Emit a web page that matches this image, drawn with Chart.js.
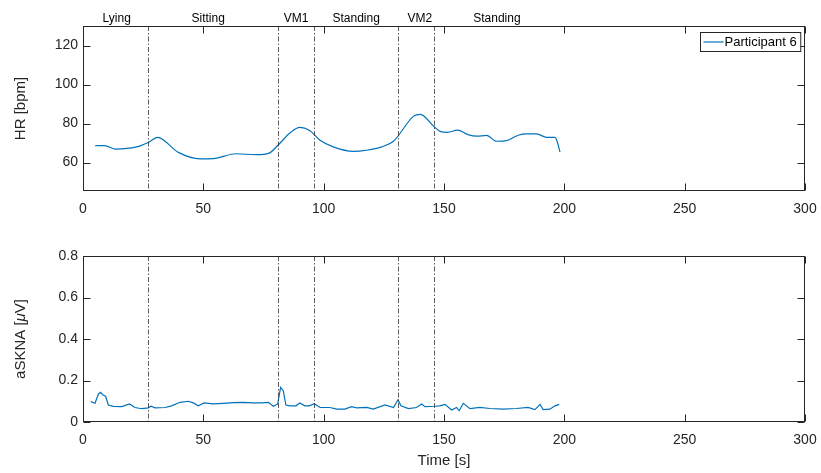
<!DOCTYPE html>
<html>
<head>
<meta charset="utf-8">
<script src="https://cdn.jsdelivr.net/npm/chart.js@4"></script>
<style>
  html, body { margin: 0; padding: 0; background: #fff; }
  .panel { position: absolute; left: 0; width: 821px; }
</style>
</head>
<body>
<div class="panel" style="top:0;height:240px"><canvas id="hrChart" width="821" height="240"></canvas></div>
<div class="panel" style="top:240px;height:233px"><canvas id="sknaChart" width="821" height="233"></canvas></div>
<script>
// heart rate, participant 6
const hrTime = [5, 9, 13.3, 22.3, 27.1, 31, 39.6, 48.6, 54.1, 63.6, 72.1, 77.3, 81.1, 86.3, 90.1, 94, 98.5, 104, 112.3, 117.9,
  124.1, 129, 137.4, 140.2, 145.7, 148.4, 151.5, 155.6, 160, 163.6, 167.7, 171.8, 176, 180.8, 184.3, 188.5, 192.6, 196.1, 196.8, 198.2];
const hrValues = [68.6, 68.7, 66.9, 68, 70.3, 72.9, 65.2, 61.9, 62, 64.5, 64, 64.8, 69, 75.5, 78, 76.6, 71.4, 68, 65.7, 66.3,
  68, 70.9, 83.8, 84.7, 78.6, 76, 75.5, 76.6, 74.3, 73.5, 73.9, 70.9, 71.2, 74, 74.7, 74.7, 72.9, 72.9, 71.7, 65.4];

// skin sympathetic nerve activity
const sknaTime = [3.3, 5, 6.4, 7.3, 8.3, 9.4, 10.5, 12.6, 16.1, 19.3, 21.6, 24.4, 27.1, 28.3, 29.9, 34.1, 36.8, 40.3, 43.8, 45.8,
  47.9, 50.3, 54.1, 58.3, 62.4, 66.6, 70.8, 74.2, 77, 79.1, 80.9, 82.1, 83.2, 84.3, 86, 88.5, 90.1, 92.2, 94, 96.1,
  98.5, 102.6, 105.4, 108.8, 111.6, 113.7, 117.9, 120.6, 125.5, 129, 130.9, 132.1, 135.2, 138.6, 140.7, 142.1, 146.2, 148.2, 150.4, 153.2,
  155.2, 156.3, 158, 160.8, 164.9, 169, 174.6, 180.1, 184.9, 187.8, 189.9, 191.2, 194, 196.1, 197.9];
const sknaValues = [0.098, 0.09, 0.135, 0.143, 0.13, 0.124, 0.082, 0.075, 0.074, 0.087, 0.07, 0.064, 0.068, 0.076, 0.068, 0.07, 0.078, 0.095, 0.1, 0.092,
  0.078, 0.092, 0.087, 0.09, 0.093, 0.095, 0.092, 0.092, 0.095, 0.076, 0.087, 0.167, 0.151, 0.082, 0.078, 0.078, 0.092, 0.078, 0.078, 0.088,
  0.07, 0.07, 0.062, 0.062, 0.074, 0.068, 0.07, 0.062, 0.082, 0.07, 0.107, 0.078, 0.065, 0.07, 0.087, 0.074, 0.076, 0.078, 0.085, 0.058,
  0.07, 0.054, 0.09, 0.064, 0.07, 0.065, 0.062, 0.065, 0.07, 0.06, 0.085, 0.06, 0.062, 0.078, 0.085];

// protocol phases
const phaseBounds = [27, 81, 96, 131, 146];
const phaseNames = ['Lying', 'Sitting', 'VM1', 'Standing', 'VM2', 'Standing'];
const phaseLabelAt = [14, 52, 88.5, 113.5, 140, 172];

const timeTicks = [0, 50, 100, 150, 200, 250, 300];
const hrTicks = [60, 80, 100, 120];
const sknaTicks = [0, 0.2, 0.4, 0.6, 0.8];
const seriesName = 'Participant 6';

const INK = '#262626';
const BLUE = '#0072BD';
const FONT = "'Liberation Sans', Arial, sans-serif";

function pairs(xs, ys) {
  return xs.map((x, i) => ({ x: x, y: ys[i] }));
}

// box around the axes, inward ticks on all four sides, phase markers
const axesBox = {
  id: 'axesBox',
  afterDatasetsDraw(chart, args, opts) {
    const { ctx, chartArea: a, scales } = chart;
    const xs = scales.x, ys = scales.y;
    ctx.save();

    // phase boundaries (dash-dot)
    ctx.strokeStyle = '#333';
    ctx.lineWidth = 0.8;
    ctx.setLineDash([5, 2, 1.5, 2]);
    phaseBounds.forEach(t => {
      const px = Math.round(xs.getPixelForValue(t)) + 0.5;
      ctx.beginPath();
      ctx.moveTo(px, a.top);
      ctx.lineTo(px, a.bottom);
      ctx.stroke();
    });
    ctx.setLineDash([]);

    // frame
    ctx.strokeStyle = INK;
    ctx.lineWidth = 1;
    const l = Math.round(a.left) + 0.5, r = Math.round(a.right) - 0.5;
    const t = Math.round(a.top) + 0.5, b = Math.round(a.bottom) - 0.5;
    ctx.strokeRect(l, t, r - l, b - t);

    // ticks
    const len = 7;
    ctx.beginPath();
    xs.ticks.forEach(tk => {
      const px = Math.round(xs.getPixelForValue(tk.value)) + 0.5;
      ctx.moveTo(px, b); ctx.lineTo(px, b - len);
      ctx.moveTo(px, t); ctx.lineTo(px, t + len);
    });
    ys.ticks.forEach(tk => {
      const py = Math.round(ys.getPixelForValue(tk.value)) + 0.5;
      ctx.moveTo(l, py); ctx.lineTo(l + len, py);
      ctx.moveTo(r, py); ctx.lineTo(r - len, py);
    });
    ctx.stroke();

    // phase names above the top panel
    if (opts.phaseLabels) {
      ctx.fillStyle = '#000';
      ctx.font = '12px ' + FONT;
      ctx.textAlign = 'center';
      ctx.textBaseline = 'alphabetic';
      phaseNames.forEach((name, i) => {
        ctx.fillText(name, xs.getPixelForValue(phaseLabelAt[i]), a.top - 4);
      });
    }

    // legend in the upper right corner
    if (opts.legend) {
      ctx.font = '13px ' + FONT;
      const tw = ctx.measureText(seriesName).width;
      const w = tw + 28, h = 19;
      const bx = Math.round(a.right - 5 - w) + 0.5, by = Math.round(a.top + 6) + 0.5;
      ctx.fillStyle = '#fff';
      ctx.fillRect(bx, by, w, h);
      ctx.strokeStyle = INK;
      ctx.strokeRect(bx, by, w, h);
      ctx.strokeStyle = BLUE;
      ctx.lineWidth = 1.2;
      ctx.beginPath();
      ctx.moveTo(bx + 3, by + h / 2);
      ctx.lineTo(bx + 23, by + h / 2);
      ctx.stroke();
      ctx.fillStyle = '#000';
      ctx.textAlign = 'left';
      ctx.textBaseline = 'middle';
      ctx.fillText(seriesName, bx + 24, by + h / 2 + 0.5);
    }

    // y title with an italic mu
    if (opts.sknaTitle) {
      const cy = (a.top + a.bottom) / 2;
      ctx.translate(21, cy);
      ctx.rotate(-Math.PI / 2);
      ctx.fillStyle = INK;
      ctx.textBaseline = 'middle';
      ctx.textAlign = 'left';
      const parts = [['aSKNA [', '15px ' + FONT], ['\u03bc', 'italic 15px ' + FONT], ['V]', '15px ' + FONT]];
      let total = 0;
      parts.forEach(p => { ctx.font = p[1]; total += ctx.measureText(p[0]).width; });
      let x = -total / 2;
      parts.forEach(p => { ctx.font = p[1]; ctx.fillText(p[0], x, 0); x += ctx.measureText(p[0]).width; });
    }
    ctx.restore();
  }
};

function makeChart(id, cfg) {
  return new Chart(document.getElementById(id), {
    type: 'line',
    data: {
      datasets: [{
        label: seriesName,
        data: cfg.data,
        borderColor: BLUE,
        borderWidth: 1.2,
        pointRadius: 0,
        fill: false,
        cubicInterpolationMode: cfg.smooth ? 'monotone' : 'default',
        tension: 0
      }]
    },
    options: {
      responsive: false,
      animation: false,
      layout: { padding: { top: cfg.top, right: 16, left: 0, bottom: 0 } },
      plugins: {
        legend: { display: false },
        tooltip: { enabled: false },
        axesBox: cfg.box
      },
      scales: {
        x: {
          type: 'linear',
          min: 0, max: 300,
          grid: { display: false, drawTicks: false },
          border: { display: false },
          afterBuildTicks: s => { s.ticks = timeTicks.map(v => ({ value: v })); },
          afterFit: s => { s.height = cfg.xHeight; s.paddingLeft = 0; s.paddingRight = 0; },
          ticks: { color: INK, padding: 10, font: { family: FONT, size: 14 }, maxRotation: 0 },
          title: {
            display: !!cfg.xTitle, text: cfg.xTitle || '', color: INK,
            font: { family: FONT, size: 15 }, padding: { top: 0, bottom: 3 }
          }
        },
        y: {
          min: cfg.yMin, max: cfg.yMax,
          grid: { display: false, drawTicks: false },
          border: { display: false },
          afterBuildTicks: s => { s.ticks = cfg.yTicks.map(v => ({ value: v })); },
          afterFit: s => { s.width = 83; s.paddingTop = 0; s.paddingBottom = 0; },
          ticks: { color: INK, padding: 5, font: { family: FONT, size: 14 } },
          title: {
            display: !!cfg.yTitle, text: cfg.yTitle || '', color: INK,
            font: { family: FONT, size: 15 }, padding: { top: 12, bottom: 0 }
          }
        }
      }
    },
    plugins: [axesBox]
  });
}

makeChart('hrChart', {
  data: pairs(hrTime, hrValues),
  smooth: true,
  top: 26,
  xHeight: 49,
  yMin: 45.4, yMax: 130,
  yTicks: hrTicks,
  yTitle: 'HR [bpm]',
  box: { phaseLabels: true, legend: true }
});

makeChart('sknaChart', {
  data: pairs(sknaTime, sknaValues),
  smooth: false,
  top: 16,
  xHeight: 51,
  yMin: 0, yMax: 0.8,
  yTicks: sknaTicks,
  xTitle: 'Time [s]',
  box: { sknaTitle: true }
});
</script>
</body>
</html>
